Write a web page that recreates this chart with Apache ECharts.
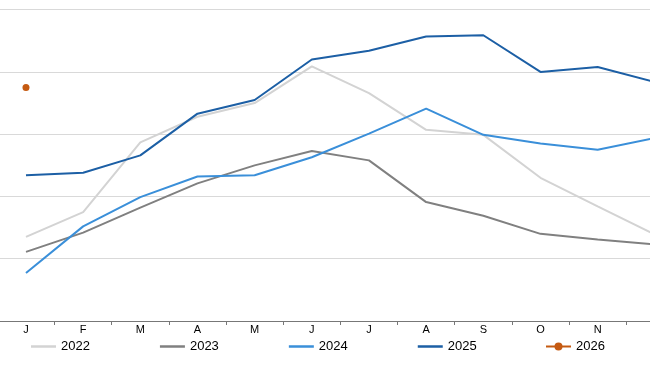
<!DOCTYPE html>
<html>
<head>
<meta charset="utf-8">
<script src="https://cdn.jsdelivr.net/npm/echarts@6/dist/echarts.min.js"></script>
<style>html,body{margin:0;padding:0;background:#fff;}#c{width:650px;height:365px;}</style>
</head>
<body>
<div id="c"></div>
<script>
const months = ['J','F','M','A','M','J','J','A','S','O','N','D'];
const s2022 = [13.5, 17.5, 28.7, 32.8, 35.0, 40.9, 36.6, 30.7, 29.9, 23.0, 18.4, 13.9];
const s2023 = [11.1, 14.2, 18.2, 22.1, 25.0, 27.3, 25.8, 19.1, 16.9, 14.0, 13.1, 12.3];
const s2024 = [7.7, 15.2, 19.9, 23.2, 23.4, 26.3, 30.1, 34.1, 29.9, 28.5, 27.5, 29.4];
const s2025 = [23.4, 23.8, 26.6, 33.3, 35.5, 42.0, 43.4, 45.7, 45.9, 40.0, 40.8, 38.4];
const s2026 = [37.5];
const seriesNames = ['2022','2023','2024','2025','2026'];
const colors = ['#d3d3d3','#808080','#3a8fd9','#1c5fa5','#c55a11'];

function lineSeries(name, data, color, sym) {
  return {
    name: name, type: 'line', data: data,
    symbol: sym ? 'circle' : 'none', symbolSize: 7, showSymbol: !!sym,
    lineStyle: {color: color, width: 2},
    itemStyle: {color: color},
    emphasis: {disabled: true}, silent: true, z: 2
  };
}

const legendText = {color: '#000', fontSize: 13, fontFamily: 'Liberation Sans'};
const chart = echarts.init(document.getElementById('c'), null, {renderer: 'canvas'});
chart.setOption({
  animation: false,
  color: colors,
  grid: {left: -2.6, right: -33.4, top: 9.7, bottom: 44, outerBoundsMode: 'none'},
  legend: [{
    data: seriesNames.slice(0, 4).map(n => ({name: n, icon: 'rect'})),
    left: 31, top: 340, padding: 0, itemWidth: 25, itemHeight: 2.5, itemGap: 70,
    textStyle: legendText, selectedMode: false
  }, {
    data: [{name: seriesNames[4]}],
    left: 545, top: 340, padding: 0, itemWidth: 25, itemHeight: 10,
    textStyle: legendText, selectedMode: false
  }],
  xAxis: {
    type: 'category', data: months, boundaryGap: true,
    axisLine: {lineStyle: {color: '#777', width: 1}},
    axisTick: {show: true, length: 4, lineStyle: {color: '#777'}},
    axisLabel: {color: '#000', fontSize: 11, fontFamily: 'Liberation Sans', margin: 3, interval: 0}
  },
  yAxis: {
    type: 'value', min: 0, max: 50, interval: 10,
    axisLabel: {show: false}, axisLine: {show: false}, axisTick: {show: false},
    splitLine: {lineStyle: {color: '#d9d9d9', width: 1}}
  },
  series: [
    lineSeries('2022', s2022, colors[0], false),
    lineSeries('2023', s2023, colors[1], false),
    lineSeries('2024', s2024, colors[2], false),
    lineSeries('2025', s2025, colors[3], false),
    lineSeries('2026', s2026, colors[4], true)
  ]
});
</script>
</body>
</html>
